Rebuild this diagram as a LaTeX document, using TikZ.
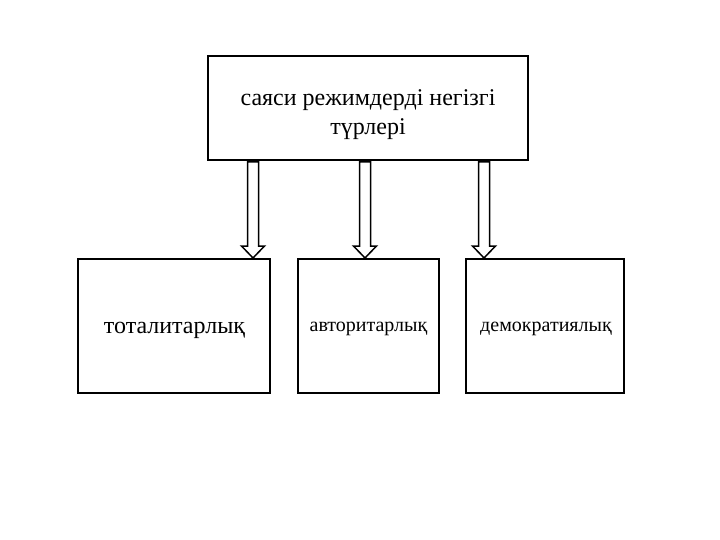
\documentclass[tikz,border=0pt]{standalone}
\usepackage{fontspec}
\setmainfont{Liberation Serif}
\usetikzlibrary{calc}
\begin{document}
\begin{tikzpicture}[x=1pt,y=-1pt,
  box/.style={draw=black,line width=1.5pt,fill=white,inner sep=0pt},
  blockarrow/.style={draw=black,line width=1.5pt,fill=white,line join=miter}]
\useasboundingbox (0,0) rectangle (720,540);
\node[box,minimum width=320pt,minimum height=104pt] (top) at (368,108) {};
\node[align=center,font=\fontsize{24}{29}\selectfont,inner sep=0pt] (toptext) at (368,115) {саяси режимдерді негізгі\\түрлері};
\node[box,minimum width=192pt,minimum height=134pt] (tot) at (174,326) {};
\node[font=\fontsize{24}{27}\selectfont,inner sep=0pt] (tottext) at (174.5,330) {тоталитарлық};
\node[box,minimum width=141pt,minimum height=134pt] (avt) at (368.5,326) {};
\node[font=\fontsize{20}{24}\selectfont,inner sep=0pt] (avttext) at (368.5,329) {авторитарлық};
\node[box,minimum width=158pt,minimum height=134pt] (dem) at (545,326) {};
\node[font=\fontsize{20}{24}\selectfont,inner sep=0pt] (demtext) at (546,329) {демократиялық};
\foreach \n/\cx in {a1/253,a2/365,a3/484}{
  \coordinate (\n s) at (\cx,162);
  \coordinate (\n t) at (\cx,258);
  \draw[blockarrow] ($(\n s)+(-5.5,0)$) -- ($(\n s)+(5.5,0)$) -- ($(\n t)+(5.5,-12)$) -- ($(\n t)+(11.5,-12)$) -- (\n t) -- ($(\n t)+(-11.5,-12)$) -- ($(\n t)+(-5.5,-12)$) -- cycle;
}
\end{tikzpicture}
\end{document}
